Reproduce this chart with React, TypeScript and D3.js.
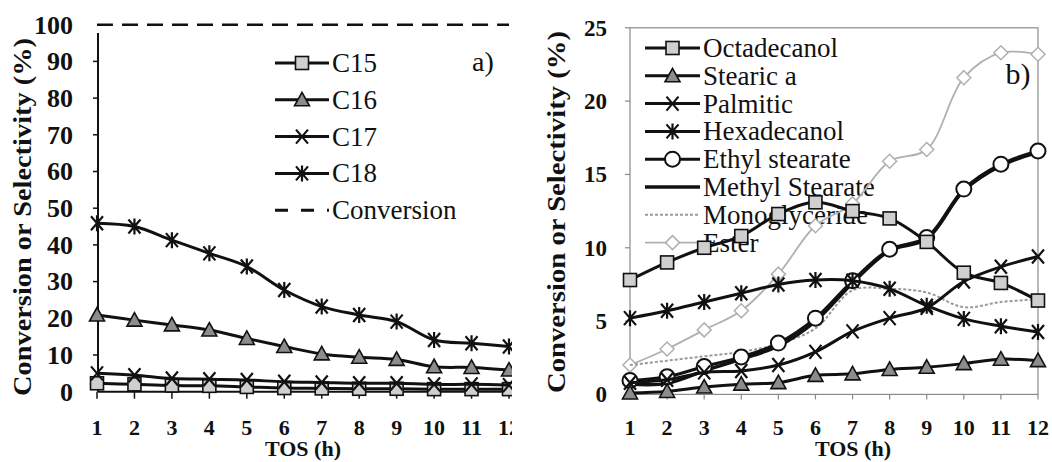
import React from "react";
import * as d3 from "d3";

// Time on stream (h)
const tos = [1, 2, 3, 4, 5, 6, 7, 8, 9, 10, 11, 12];

// Panel a) selectivity to hydrocarbons (%)
const c15 = [2.3, 2.0, 1.7, 1.6, 1.3, 1.0, 0.9, 0.8, 0.8, 0.7, 0.7, 0.7];
const c16 = [20.9, 19.5, 18.2, 16.8, 14.5, 12.3, 10.3, 9.4, 8.8, 6.8, 6.6, 5.9];
const c17 = [5.0, 4.5, 3.6, 3.4, 3.2, 2.7, 2.5, 2.3, 2.3, 2.0, 2.0, 1.8];
const c18 = [45.9, 45.0, 41.3, 37.7, 34.1, 27.7, 23.2, 20.9, 19.1, 14.1, 13.2, 12.3];
const conversion = [100, 100, 100, 100, 100, 100, 100, 100, 100, 100, 100, 100];

// Panel b) selectivity to oxygenates (%)
const octadecanol = [7.8, 9.0, 10.0, 10.8, 12.3, 13.1, 12.5, 12.0, 10.4, 8.3, 7.6, 6.4];
const stearicAcid = [0.1, 0.2, 0.5, 0.7, 0.8, 1.3, 1.4, 1.7, 1.85, 2.1, 2.4, 2.3];
const palmitic = [0.8, 1.0, 1.5, 1.6, 2.0, 2.9, 4.3, 5.2, 5.9, 7.7, 8.7, 9.4];
const hexadecanol = [5.2, 5.7, 6.3, 6.9, 7.5, 7.8, 7.75, 7.2, 6.05, 5.15, 4.65, 4.25];
const ethylStearate = [0.95, 1.2, 1.9, 2.55, 3.5, 5.2, 7.75, 9.9, 10.7, 14.0, 15.7, 16.6];
const methylStearate = [0.7, 0.75, 1.6, 2.4, 3.3, 5.0, 7.6, 9.8, 10.6, 13.9, 15.6, 16.5];
const monoglyceride = [2.0, 2.3, 2.6, 2.9, 3.45, 4.5, 7.1, 7.2, 6.95, 5.95, 6.3, 6.5];
const ester = [2.0, 3.1, 4.4, 5.7, 8.2, 11.5, 13.0, 15.9, 16.7, 21.6, 23.3, 23.2];

const leftTicks = [0, 10, 20, 30, 40, 50, 60, 70, 80, 90, 100];
const rightTicks = [0, 5, 10, 15, 20, 25];

const FONT = "Liberation Serif";

type MarkerKind = "square" | "triangle" | "x" | "star" | "circle" | "diamond" | "none";

function Marker({ kind, x, y }: { kind: MarkerKind; x: number; y: number }) {
  switch (kind) {
    case "square":
      return <rect x={x - 6.5} y={y - 6.5} width={13} height={13} fill="#cfcfcf" stroke="#111" strokeWidth={1.6} />;
    case "triangle":
      return (
        <path
          d={`M${x},${y - 7.5}L${x + 7.5},${y + 6}L${x - 7.5},${y + 6}Z`}
          fill="#8c8c8c"
          stroke="#111"
          strokeWidth={1.6}
        />
      );
    case "x":
      return (
        <path
          d={`M${x - 6},${y - 7}L${x + 6},${y + 7}M${x + 6},${y - 7}L${x - 6},${y + 7}`}
          stroke="#111"
          strokeWidth={2.2}
        />
      );
    case "star":
      return (
        <path
          d={`M${x - 6},${y - 7}L${x + 6},${y + 7}M${x + 6},${y - 7}L${x - 6},${y + 7}M${x},${y - 8}L${x},${y + 8}`}
          stroke="#111"
          strokeWidth={2.2}
        />
      );
    case "circle":
      return <circle cx={x} cy={y} r={7.5} fill="#fff" stroke="#111" strokeWidth={2} />;
    case "diamond":
      return (
        <path
          d={`M${x},${y - 7}L${x + 7},${y}L${x},${y + 7}L${x - 7},${y}Z`}
          fill="#fff"
          stroke="#b0b0b0"
          strokeWidth={1.5}
        />
      );
    default:
      return null;
  }
}

interface Series {
  name: string;
  values: number[];
  marker: MarkerKind;
  stroke: string;
  width: number;
  dash?: string;
}

const leftSeries: Series[] = [
  { name: "C15", values: c15, marker: "square", stroke: "#111", width: 3 },
  { name: "C16", values: c16, marker: "triangle", stroke: "#111", width: 3 },
  { name: "C17", values: c17, marker: "x", stroke: "#111", width: 3 },
  { name: "C18", values: c18, marker: "star", stroke: "#111", width: 3 },
  { name: "Conversion", values: conversion, marker: "none", stroke: "#111", width: 2.6, dash: "16 9" },
];

const rightSeries: Series[] = [
  { name: "Octadecanol", values: octadecanol, marker: "square", stroke: "#111", width: 3 },
  { name: "Stearic a", values: stearicAcid, marker: "triangle", stroke: "#111", width: 3 },
  { name: "Palmitic", values: palmitic, marker: "x", stroke: "#111", width: 3 },
  { name: "Hexadecanol", values: hexadecanol, marker: "star", stroke: "#111", width: 3 },
  { name: "Ethyl stearate", values: ethylStearate, marker: "circle", stroke: "#111", width: 3 },
  { name: "Methyl Stearate", values: methylStearate, marker: "none", stroke: "#111", width: 3.4 },
  { name: "Monoglyceride", values: monoglyceride, marker: "none", stroke: "#9a9a9a", width: 2, dash: "3 2" },
  { name: "Ester", values: ester, marker: "diamond", stroke: "#b0b0b0", width: 1.8 },
];

// drawing order: gray curves under the black ones
const rightDrawOrder = [7, 6, 5, 4, 3, 2, 1, 0];

function T(props: {
  x?: number;
  y?: number;
  size: number;
  bold?: boolean;
  anchor?: string;
  dy?: string;
  transform?: string;
  textLength?: number;
  children: React.ReactNode;
}) {
  return (
    <text
      x={props.x}
      y={props.y}
      dy={props.dy}
      transform={props.transform}
      textAnchor={props.anchor || "start"}
      fontSize={props.size}
      fontWeight={props.bold ? "bold" : "normal"}
      fill="#111"
      style={{ fontFamily: `"${FONT}"` }}
      textLength={props.textLength}
      lengthAdjust={props.textLength ? "spacingAndGlyphs" : undefined}
    >
      {props.children}
    </text>
  );
}

export default function App() {
  // panel a) scales
  const xA = d3.scaleLinear().domain([1, 12]).range([97, 509]);
  const yA = d3.scaleLinear().domain([0, 100]).range([391.7, 24.7]);
  // panel b) scales
  const xB = d3.scaleLinear().domain([1, 12]).range([630, 1038]);
  const yB = d3.scaleLinear().domain([0, 25]).range([394.4, 27.8]);

  const lineA = d3
    .line<number>()
    .x((_, i) => xA(tos[i]))
    .y((d) => yA(d))
    .curve(d3.curveCatmullRom.alpha(0.5));
  const lineB = d3
    .line<number>()
    .x((_, i) => xB(tos[i]))
    .y((d) => yB(d))
    .curve(d3.curveCatmullRom.alpha(0.5));

  const renderSeries = (s: Series, line: d3.Line<number>, sx: (v: number) => number, sy: (v: number) => number, key: string) => (
    <g key={key}>
      <path d={line(s.values) || ""} fill="none" stroke={s.stroke} strokeWidth={s.width} strokeDasharray={s.dash} />
      {s.marker !== "none" &&
        s.values.map((v, i) => <Marker key={i} kind={s.marker} x={sx(tos[i])} y={sy(v)} />)}
    </g>
  );

  const legendItem = (s: Series, x0: number, x1: number, y: number, fs: number, key: string) => (
    <g key={key}>
      <line
        x1={x0}
        x2={x1}
        y1={y}
        y2={y}
        stroke={s.stroke}
        strokeWidth={s.name === "Conversion" ? 3 : s.width}
        strokeDasharray={s.name === "Conversion" ? "13 13" : s.dash}
      />
      <Marker kind={s.marker} x={(x0 + x1) / 2} y={y} />
      <T x={x1 + 3} y={y} dy="0.33em" size={fs}>
        {s.name}
      </T>
    </g>
  );

  return (
    <svg width={1052} height={462} style={{ position: "absolute", left: 0, top: 0 }}>
      <rect x={0} y={0} width={1052} height={462} fill="#fff" />
      <defs>
        <clipPath id="clipA">
          <rect x={0} y={0} width={512} height={462} />
        </clipPath>
      </defs>

      {/* ---------- panel a) ---------- */}
      <g clipPath="url(#clipA)">
        <line x1={98} x2={98} y1={33} y2={yA(0)} stroke="#111" strokeWidth={2} />
        <line x1={98} x2={512} y1={yA(0)} y2={yA(0)} stroke="#111" strokeWidth={2} />
        {leftTicks.map((t) => (
          <g key={t}>
            {t > 0 && t < 100 && <line x1={93} x2={98} y1={yA(t)} y2={yA(t)} stroke="#111" strokeWidth={1.5} />}
            <T x={73} y={yA(t)} dy="0.34em" anchor="end" bold size={26}>
              {t}
            </T>
          </g>
        ))}
        {tos.map((t) => (
          <g key={t}>
            <line x1={xA(t)} x2={xA(t)} y1={yA(0)} y2={yA(0) + 7} stroke="#111" strokeWidth={1.5} />
            <T x={xA(t)} y={435} anchor="middle" bold size={22}>
              {t}
            </T>
          </g>
        ))}
        {leftSeries.map((s, i) => renderSeries(s, lineA, xA, yA, "a" + i))}
      </g>
      <T x={303} y={456} anchor="middle" bold size={22}>
        TOS (h)
      </T>
      <T transform="translate(31,217) rotate(-90)" anchor="middle" bold size={26} textLength={358}>
        Conversion or Selectivity (%)
      </T>
      {leftSeries.map((s, i) => legendItem(s, 275, 329, 63 + i * 36.8, 27, "la" + i))}
      <T x={483} y={62} dy="0.33em" anchor="middle" size={28}>
        a)
      </T>

      {/* ---------- panel b) ---------- */}
      <rect x={630} y={yB(25)} width={1038 - 630} height={yB(0) - yB(25)} fill="none" stroke="#8a8a8a" strokeWidth={1.2} />
      {rightTicks.map((t) => (
        <g key={t}>
          <line x1={625} x2={630} y1={yB(t)} y2={yB(t)} stroke="#8a8a8a" strokeWidth={1.2} />
          <T x={607} y={yB(t)} dy="0.34em" anchor="end" bold size={23}>
            {t}
          </T>
        </g>
      ))}
      {tos.map((t) => (
        <g key={t}>
          <line x1={xB(t)} x2={xB(t)} y1={yB(0)} y2={yB(0) + 5} stroke="#8a8a8a" strokeWidth={1.2} />
          <T x={xB(t)} y={435} anchor="middle" bold size={22}>
            {t}
          </T>
        </g>
      ))}
      <T x={853} y={456} anchor="middle" bold size={22}>
        TOS (h)
      </T>
      <T transform="translate(565,212) rotate(-90)" anchor="middle" bold size={26} textLength={362}>
        Conversion or Selectivity (%)
      </T>
      {rightSeries.map((s, i) => legendItem(s, 645, 700, 48 + i * 27.8, 27, "lb" + i))}
      {rightDrawOrder.map((i) => renderSeries(rightSeries[i], lineB, xB, yB, "b" + i))}
      <T x={1018} y={74} dy="0.33em" anchor="middle" size={30}>
        b)
      </T>
    </svg>
  );
}
